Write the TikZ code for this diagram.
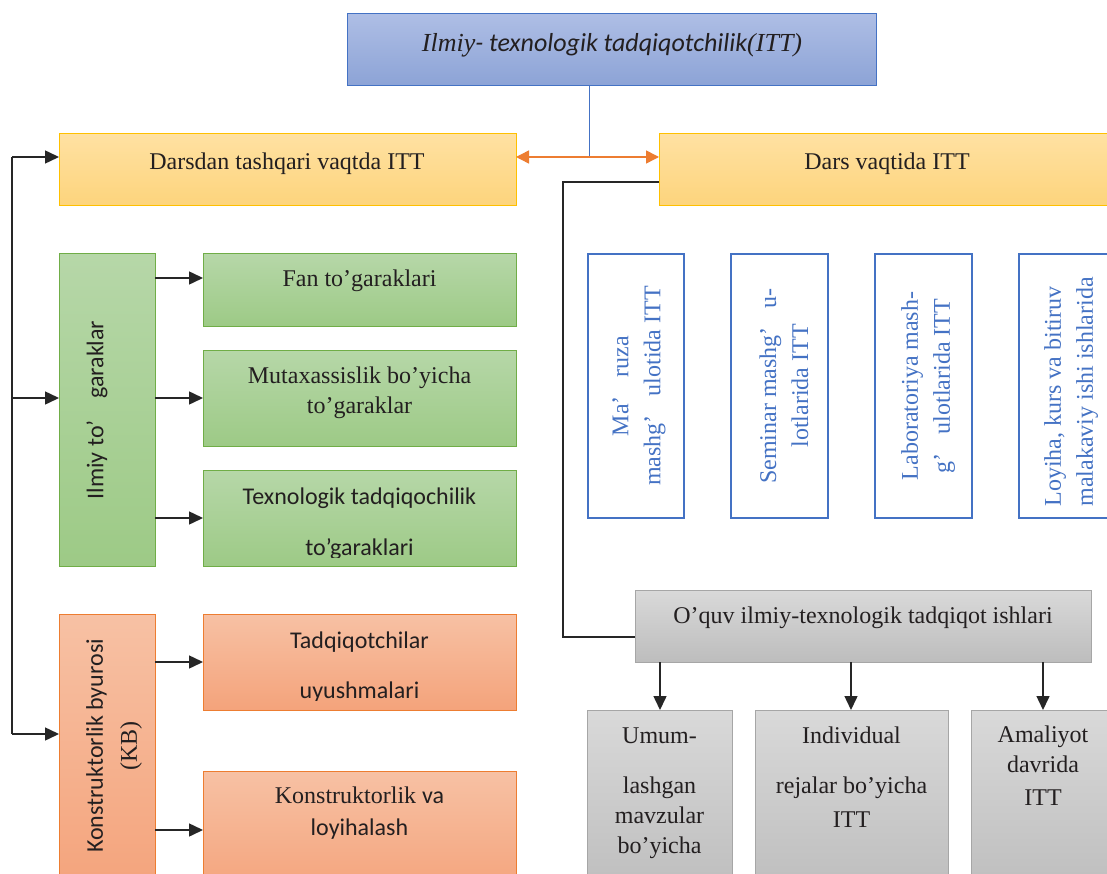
\documentclass[tikz,border=0pt]{standalone}
\usepackage{fontspec}
\setmainfont{Liberation Serif}
\newfontfamily\calib{Carlito}
\usetikzlibrary{arrows.meta}
\definecolor{blueT}{HTML}{AEBEE5}
\definecolor{blueB}{HTML}{8CA3D6}
\definecolor{blueL}{HTML}{4472C4}
\definecolor{yelT}{HTML}{FFE1A2}
\definecolor{yelB}{HTML}{FDD47C}
\definecolor{yelL}{HTML}{FFC000}
\definecolor{grnT}{HTML}{B6D7A8}
\definecolor{grnB}{HTML}{9DCA86}
\definecolor{grnL}{HTML}{70AD47}
\definecolor{orT}{HTML}{F7C1A4}
\definecolor{orB}{HTML}{F4A37B}
\definecolor{orL}{HTML}{ED7D31}
\definecolor{gyT}{HTML}{D9D9D9}
\definecolor{gyB}{HTML}{BDBDBD}
\definecolor{gyL}{HTML}{A6A6A6}
\definecolor{txt}{HTML}{231F20}
\definecolor{conn}{HTML}{262626}
\newcommand\mkbox[6]{%
  \node[#2, minimum width={(#5)-(#3)}, minimum height={(#6)-(#4)}] (#1) at ({((#3)+(#5))/2},{((#4)+(#6))/2}) {};}
\tikzset{
  bx/.style={rectangle, inner sep=0pt, outer sep=0pt, line width=1pt},
  bluebox/.style={bx, draw=blueL, top color=blueT, bottom color=blueB},
  ybox/.style={bx, draw=yelL, top color=yelT, bottom color=yelB},
  gbox/.style={bx, draw=grnL, top color=grnT, bottom color=grnB},
  obox/.style={bx, draw=orL, top color=orT, bottom color=orB},
  gybox/.style={bx, draw=gyL, top color=gyT, bottom color=gyB},
  wbox/.style={bx, draw=blueL, fill=white, line width=1.4pt},
  ser/.style={inner sep=0pt, anchor=base, text=txt, font=\fontsize{24}{30}\selectfont},
  san/.style={inner sep=0pt, anchor=base, text=txt, font=\calib\fontsize{24}{30}\selectfont},
  rot/.style={inner sep=0pt, rotate=90, align=center, text=blueL, font=\fontsize{24}{32}\selectfont},
  cline/.style={line width=1.5pt, draw=conn},
  arr/.style={cline, -{Triangle[length=14pt,width=13pt]}},
  oarr/.style={line width=1.5pt, draw=orL, {Triangle[length=13pt,width=13pt]}-{Triangle[length=13pt,width=13pt]}},
}
\begin{document}
\begin{tikzpicture}[x=1pt,y=-1pt]
\useasboundingbox (0,0) rectangle (1107,874);
\clip (0,0) rectangle (1107,874);
\fill[white] (0,0) rectangle (1107,874);

% boxes
\mkbox{title}{bluebox}{347}{14}{876}{86}
\mkbox{outside}{ybox}{59}{134}{516}{206}
\mkbox{during}{ybox}{659}{134}{1125}{206}
\mkbox{ilmiy}{gbox}{59}{254}{155}{566}
\mkbox{fan}{gbox}{203}{254}{516}{326}
\mkbox{mutax}{gbox}{203}{350}{516}{446}
\mkbox{texno}{gbox}{203}{470}{516}{566}
\mkbox{kb}{obox}{59}{614}{155}{895}
\mkbox{tadq}{obox}{203}{614}{516}{710}
\mkbox{konst}{obox}{203}{771}{516}{895}
\mkbox{maruza}{wbox}{588}{254}{684}{518}
\mkbox{seminar}{wbox}{731}{254}{828}{518}
\mkbox{labor}{wbox}{875}{254}{972}{518}
\mkbox{loyiha}{wbox}{1019}{254}{1125}{518}
\mkbox{oquv}{gybox}{635}{590}{1091}{662}
\mkbox{umum}{gybox}{587}{710}{732}{895}
\mkbox{indiv}{gybox}{755}{710}{948}{895}
\mkbox{amal}{gybox}{971}{710}{1125}{895}

% connectors
\coordinate (mid) at (589,157);
\draw[blueL, line width=1pt] (title.south -| mid) -- (mid);
\draw[oarr] (outside.east |- mid) -- (during.west |- mid);

\coordinate (lt) at (12,157);
\coordinate (lm) at (12,398);
\coordinate (lb) at (12,734);
\draw[cline] (lt) -- (lb);
\draw[arr] (lt) -- (outside.west |- lt);
\draw[arr] (lm) -- (ilmiy.west |- lm);
\draw[arr] (lb) -- (kb.west |- lb);

\draw[arr] (ilmiy.east |- 0,278) -- (fan.west |- 0,278);
\draw[arr] (ilmiy.east |- 0,398) -- (mutax.west |- 0,398);
\draw[arr] (ilmiy.east |- 0,518) -- (texno.west |- 0,518);
\draw[arr] (kb.east |- 0,662) -- (tadq.west |- 0,662);
\draw[arr] (kb.east |- 0,830) -- (konst.west |- 0,830);

\coordinate (rc) at (563,637);
\draw[cline] (during.west |- 0,182) -| (rc) -- (oquv.west |- rc);

\draw[arr] (oquv.south -| 660,0) -- (umum.north -| 660,0);
\draw[arr] (oquv.south -| 851,0) -- (indiv.north -| 851,0);
\draw[arr] (oquv.south -| 1043,0) -- (amal.north -| 1043,0);

% texts
\node[ser, font=\fontsize{26}{30}\selectfont] (ttitle) at (612,52) {\itshape Ilmiy{\calib - texnologik tadqiqotchilik}(ITT)};
\node[ser] (toutside) at (287,170) {Darsdan tashqari vaqtda ITT};
\node[ser] (tduring) at (887,170) {Dars vaqtida ITT};

\node[san, anchor=center, rotate=90] (tilmiy) at (97,410) {Ilmiy to’\hspace{0.9em}garaklar};
\node[ser] (tfan) at (359.5,287) {Fan to’garaklari};
\node[ser] (tmut1) at (359.5,383) {Mutaxassislik bo’yicha};
\node[ser] (tmut2) at (359.5,413) {to’garaklar};
\node[san] (ttex1) at (359.5,504) {Texnologik tadqiqochilik};
\begin{scope}
\clip (203,470) rectangle (516,557);
\node[san] (ttex2) at (359.5,555) {to’garaklari};
\end{scope}

\node[inner sep=0pt, rotate=90, align=center, text=txt, font=\fontsize{24}{34}\selectfont] (tkb) at (114,746) {{\calib Konstruktorlik byurosi}\\(KB)};
\node[san] (ttad1) at (359.5,648) {Tadqiqotchilar};
\begin{scope}
\clip (203,614) rectangle (516,700);
\node[san] (ttad2) at (359.5,698) {uyushmalari};
\end{scope}
\node[ser] (tkon1) at (359.5,803) {Konstruktorlik {\calib va}};
\node[san] (tkon2) at (359.5,835) {loyihalash};

\node[rot] (tmaruza) at (639,386) {Ma’\hspace{0.8em}ruza\\mashg’\hspace{0.8em}ulotida ITT};
\node[rot] (tseminar) at (784,386) {Seminar mashg’\hspace{0.8em}u-\\lotlarida ITT};
\node[rot] (tlabor) at (928,386) {Laboratoriya mash-\\g’\hspace{0.8em}ulotlarida ITT};
\node[rot, align=left] (tloyiha) at (1071,392) {Loyiha, kurs va bitiruv\\malakaviy ishi ishlarida};

\node[ser] (toquv) at (863,623) {O’quv ilmiy-texnologik tadqiqot ishlari};
\node[ser] (tu1) at (659.5,743) {Umum-};
\node[ser] (tu2) at (659.5,793) {lashgan};
\node[ser] (tu3) at (659.5,823) {mavzular};
\node[ser] (tu4) at (659.5,853) {bo’yicha};
\node[ser] (ti1) at (851.5,743) {Individual};
\node[ser] (ti2) at (851.5,793) {rejalar bo’yicha};
\node[ser] (ti3) at (851.5,827) {ITT};
\node[ser] (ta1) at (1043,742) {Amaliyot};
\node[ser] (ta2) at (1043,772) {davrida};
\node[ser] (ta3) at (1043,805) {ITT};
\end{tikzpicture}
\end{document}
